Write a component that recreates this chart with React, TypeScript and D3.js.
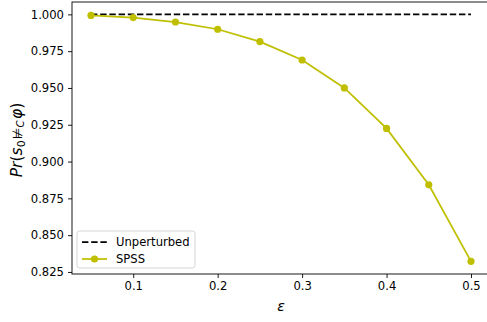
import { useRef, useEffect } from 'react';
import * as d3 from 'd3';

const EPS = [0.05, 0.1, 0.15, 0.2, 0.25, 0.3, 0.35, 0.4, 0.45, 0.5];
const SPSS = [0.9993, 0.9978, 0.9948, 0.9899, 0.9815, 0.969, 0.950, 0.9225, 0.8842, 0.8322];
const UNPERTURBED = [1.0, 1.0];
const Y_TICKS = [0.825, 0.85, 0.875, 0.9, 0.925, 0.95, 0.975, 1.0];
const X_TICKS = [0.1, 0.2, 0.3, 0.4, 0.5];

const VW = 487, VH = 322;
const M = { top: 2, right: -3, bottom: 48, left: 72 };
const FONT = 'DejaVu Sans, sans-serif';
const FS = 11.6;
const OLIVE = '#bfbf00';

export default function App() {
  const svgRef = useRef<SVGSVGElement>(null);

  useEffect(() => {
    const svg = d3.select(svgRef.current);
    svg.selectAll('*').remove();

    const x = d3.scaleLinear().domain([0.0275, 0.5225]).range([M.left, VW - M.right]);
    const y = d3.scaleLinear().domain([0.8236, 1.0084]).range([VH - M.bottom, M.top]);

    // axes
    const xAxis = d3.axisBottom(x).tickValues(X_TICKS).tickSize(4).tickPadding(4)
      .tickFormat(d => d3.format('.1f')(d as number));
    const yAxis = d3.axisLeft(y).tickValues(Y_TICKS).tickSize(4).tickPadding(4)
      .tickFormat(d => d3.format('.3f')(d as number));

    const gx = svg.append('g').attr('transform', `translate(0,${VH - M.bottom})`).call(xAxis);
    const gy = svg.append('g').attr('transform', `translate(${M.left},0)`).call(yAxis);
    [gx, gy].forEach(g => {
      g.select('.domain').remove();
      g.selectAll('text').attr('font-family', FONT).attr('font-size', FS).attr('fill', '#000');
      g.selectAll('line').attr('stroke', '#000').attr('stroke-width', 0.9);
    });

    // frame
    svg.append('rect')
      .attr('x', M.left).attr('y', M.top)
      .attr('width', VW - M.right - M.left).attr('height', VH - M.bottom - M.top)
      .attr('fill', 'none').attr('stroke', '#000').attr('stroke-width', 0.9);

    // unperturbed baseline
    const lineU = d3.line<number>().x((_, i) => x(i === 0 ? EPS[0] : EPS[EPS.length - 1])).y(v => y(v));
    svg.append('path').attr('d', lineU(UNPERTURBED) ?? '')
      .attr('fill', 'none').attr('stroke', '#000').attr('stroke-width', 1.75)
      .attr('stroke-dasharray', '6.4 2.8');

    // SPSS series
    const line = d3.line<number>().x((_, i) => x(EPS[i])).y(v => y(v));
    svg.append('path').attr('d', line(SPSS) ?? '')
      .attr('fill', 'none').attr('stroke', OLIVE).attr('stroke-width', 1.75);
    svg.append('g').selectAll('circle').data(SPSS).join('circle')
      .attr('cx', (_, i) => x(EPS[i])).attr('cy', d => y(d)).attr('r', 3.6).attr('fill', OLIVE);

    // axis labels
    svg.append('text').attr('x', (M.left + VW - M.right) / 2).attr('y', 311)
      .attr('text-anchor', 'middle').attr('font-family', FONT).attr('font-size', 14)
      .attr('font-style', 'italic').text('ε');

    const yl = svg.append('text').attr('transform', 'translate(22,140) rotate(-90)')
      .attr('text-anchor', 'middle').attr('font-family', FONT).attr('font-size', 15.5);
    yl.append('tspan').attr('font-style', 'italic').text('Pr');
    yl.append('tspan').text('(');
    yl.append('tspan').attr('font-style', 'italic').text('s');
    yl.append('tspan').attr('font-size', 11).attr('dy', 3).text('0');
    yl.append('tspan').attr('dy', -3).attr('dx', 1.5).attr('font-size', 13).text('⊭');
    yl.append('tspan').attr('font-size', 10).attr('font-style', 'italic').attr('dy', 2).text('C');
    yl.append('tspan').attr('font-style', 'italic').attr('dy', -2).attr('dx', 1.5).text('φ');
    yl.append('tspan').text(')');

    // legend
    const lg = svg.append('g').attr('transform', 'translate(77,231)');
    lg.append('rect').attr('width', 118).attr('height', 37).attr('rx', 2.5)
      .attr('fill', 'rgba(255,255,255,0.8)').attr('stroke', '#d0d0d0').attr('stroke-width', 0.9);
    lg.append('line').attr('x1', 5).attr('x2', 30).attr('y1', 11).attr('y2', 11)
      .attr('stroke', '#000').attr('stroke-width', 1.75).attr('stroke-dasharray', '6.4 2.8');
    lg.append('line').attr('x1', 5).attr('x2', 30).attr('y1', 28).attr('y2', 28)
      .attr('stroke', OLIVE).attr('stroke-width', 1.75);
    lg.append('circle').attr('cx', 17.5).attr('cy', 28).attr('r', 3.6).attr('fill', OLIVE);
    lg.selectAll('text.lbl').data(['Unperturbed', 'SPSS']).join('text')
      .attr('x', 39).attr('y', (_, i) => 11 + i * 17).attr('dy', '0.35em')
      .attr('font-family', FONT).attr('font-size', FS).attr('fill', '#000').text(d => d);
  }, []);

  return (
    <svg ref={svgRef} width={VW} height={VH} viewBox={`0 0 ${VW} ${VH}`}
      style={{ position: 'absolute', left: 0, top: 0, background: '#fff' }} />
  );
}
